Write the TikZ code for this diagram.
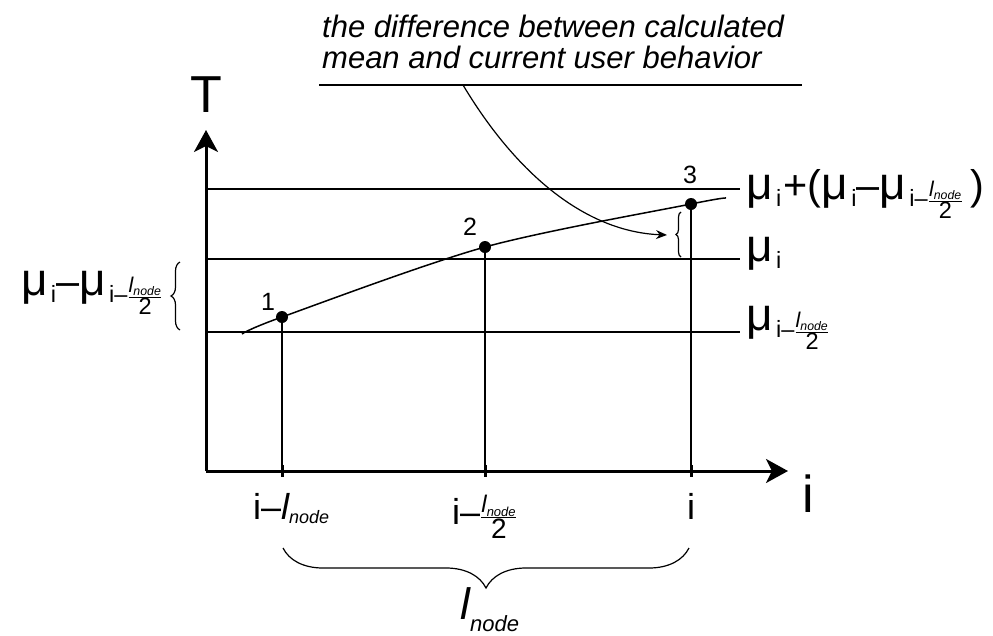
\documentclass[tikz,border=0pt]{standalone}
\usepackage{amsmath}
\usepackage{fontspec}
\setmainfont{Liberation Sans}
\usetikzlibrary{arrows.meta,decorations.pathreplacing}
\newcommand{\fsz}[1]{\fontsize{#1}{#1}\selectfont}
\newcommand{\sz}[2]{\text{\fsz{#1}#2}}
\newcommand{\lnode}[2]{\sz{#1}{\itshape l}_{\sz{#2}{\itshape node}}}
\newcommand{\hfr}{$\frac{\lnode{19}{11}}{\sz{21}{2}}$}
\newcommand{\mug}{{\fsz{41}μ}}
\newcommand{\lo}[1]{\raisebox{-7pt}{\fsz{21}#1}}
\newcommand{\mui}{\mug\hspace{3pt}\lo{i}}
\newcommand{\muh}{\mug\hspace{3pt}\lo{i–\hfr}}
\tikzset{
  axis/.style={-{Stealth[length=22pt,width=24pt,inset=6pt]},line width=3pt},
  guide/.style={line width=1.2pt},
  trend/.style={line width=1.5pt},
  tickmark/.style={line width=3pt},
  dot/.style={circle,fill=black,inner sep=0pt,minimum size=12pt},
  numlab/.style={font=\fsz{25},inner sep=0pt},
  biglab/.style={font=\fsz{52},inner sep=0pt},
  mulab/.style={font=\fsz{37},inner sep=0pt,scale=1.12,transform shape},
  axlab/.style={font=\fsz{36},inner sep=0pt},
  brc/.style={decorate,line width=1.2pt},
  note/.style={font=\fontsize{31}{31}\selectfont\itshape,align=left,inner sep=0pt},
  pointer/.style={-{Stealth[length=11pt,width=9pt]},line width=1.2pt}
}
\begin{document}
\begin{tikzpicture}[x=1pt,y=-1pt]
  \useasboundingbox (0,0) rectangle (993,635);
  \coordinate (o) at (206,471); \coordinate (ytip) at (206,130); \coordinate (xtip) at (788,471);
  \node[biglab] (T) at (206,95) {T};
  \node[biglab] (iax) at (808,494) {i};
  \coordinate (hl1) at (206,189); \coordinate (hr1) at (740,189);
  \coordinate (hl2) at (206,259); \coordinate (hr2) at (740,259);
  \coordinate (hl3) at (206,332); \coordinate (hr3) at (740,332);
  \draw[guide] (hl1) -- (hr1);
  \draw[guide] (hl2) -- (hr2);
  \draw[guide] (hl3) -- (hr3);
  \node[mulab,anchor=base west] (mtop) at (746,199) {\mui\hspace{2pt}+(\mui–\muh\hspace{7pt})};
  \node[mulab,anchor=base west] (mmid) at (746,261) {\mui};
  \node[mulab,anchor=base west] (mlow) at (746,330) {\muh};
  \node[mulab,anchor=base east] (mdiff) at (163,295) {\mui–\muh};
  \node[dot] (p1) at (282,317) {};
  \node[dot] (p2) at (485,247) {};
  \node[dot] (p3) at (691,204) {};
  \coordinate (c0) at (242,334); \coordinate (c4) at (726,198);
  \draw[trend] plot[smooth] coordinates {(c0) (p1.center) (p2.center) (p3.center) (c4)};
  \node[numlab] (n1) at (268,302) {1};
  \node[numlab] (n2) at (470,227) {2};
  \node[numlab] (n3) at (690,175) {3};
  \draw[guide] (p1) -- (p1 |- o);
  \draw[guide] (p2) -- (p2 |- o);
  \draw[guide] (p3) -- (p3 |- o);
  \draw[axis] (o) -- (ytip);
  \draw[axis] (o) -- (xtip);
  \draw[tickmark] (p1 |- o) ++(0,-6) -- ++(0,12);
  \draw[tickmark] (p2 |- o) ++(0,-6) -- ++(0,12);
  \draw[tickmark] (p3 |- o) ++(0,-6) -- ++(0,12);
  \node[axlab,anchor=base west] (x1) at (253,519) {i–$\lnode{36}{18}$};
  \node[axlab,anchor=base west] (x2) at (452,524) {i–$\frac{\lnode{24}{13}}{\sz{28}{2}}$};
  \node[axlab,anchor=base] (x3) at (691,519) {i};
  \coordinate (bl) at (283,548); \coordinate (br) at (689,548);
  \draw[brc,decoration={brace,amplitude=40pt}] (br) -- (bl);
  \node[inner sep=0pt,anchor=base] (span) at (490,619) {$\lnode{44}{22}$};
  \coordinate (lb1) at (180,330); \coordinate (lb2) at (180,262);
  \draw[brc,decoration={brace,amplitude=9pt}] (lb1) -- (lb2);
  \coordinate (sb1) at (681,257); \coordinate (sb2) at (681,212);
  \draw[brc,decoration={brace,amplitude=5pt}] (sb1) -- (sb2);
  \node[note,anchor=base west] (txt) at (322,68) {the difference between calculated\\mean and current user behavior};
  \coordinate (u1) at (319,85); \coordinate (u2) at (802,85);
  \draw[guide] (u1) -- (u2);
  \coordinate (cs) at (463,85); \coordinate (ce) at (667,235);
  \draw[pointer] (cs) .. controls (520,180) and (590,232) .. (ce);
\end{tikzpicture}
\end{document}
